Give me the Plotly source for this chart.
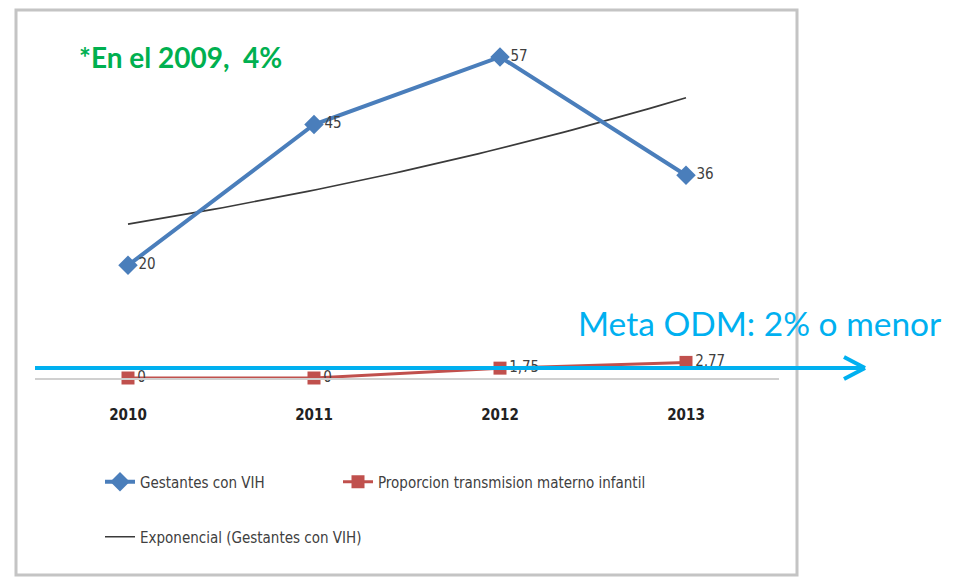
import numpy as np
import plotly.graph_objects as go

# ---- data ----
years = ["2010", "2011", "2012", "2013"]
gestantes_vih = [20, 45, 57, 36]
transmision = [0, 0, 1.75, 2.77]

xi = list(range(len(years)))

# exponential trendline fitted to the Gestantes series (as the original chart's trendline)
b, a = np.polyfit(xi, np.log(gestantes_vih), 1)
xt = np.linspace(0, len(years) - 1, 60)
yt = np.exp(a + b * xt)

OFF = 8                  # page body margin offset
W, H = 969, 577
L, R = 35 - OFF, 779 - OFF   # plot area pixel extents (page coords minus offset)
T, B = 40 - OFF, 378 - OFF

def px(x):
    return (x - OFF - L) / (R - L)

def py(y):
    return (B - (y - OFF)) / (B - T)

FONT = "DejaVu Sans Condensed, Liberation Sans Narrow, Arial Narrow, sans-serif"
BLUE = "#4A7EBB"
RED = "#C0504D"
CYAN = "#00B0F0"

def fmt(v):
    return ("%g" % v).replace(".", ",")

fig = go.Figure()
fig.add_trace(go.Scatter(
    x=xt, y=yt, mode="lines", name="Exponencial (Gestantes con VIH)",
    line=dict(color="#3a3a3a", width=1.6), legend="legend2", hoverinfo="skip"))
fig.add_trace(go.Scatter(
    x=xi, y=gestantes_vih, mode="lines+markers+text", name="Gestantes con VIH",
    line=dict(color=BLUE, width=4), marker=dict(symbol="diamond", size=15, color=BLUE),
    text=[fmt(v) for v in gestantes_vih], textposition="middle right",
    textfont=dict(family=FONT, size=15, color="#404040"), cliponaxis=False,
    legend="legend"))
fig.add_trace(go.Scatter(
    x=xi, y=transmision, mode="lines+markers+text", name="Proporcion transmision materno infantil",
    line=dict(color=RED, width=3), marker=dict(symbol="square", size=13, color=RED),
    text=[fmt(v) for v in transmision], textposition="middle right",
    textfont=dict(family=FONT, size=15, color="#404040"), cliponaxis=False,
    legend="legend3"))

shapes = []
# outer frame of the picture
shapes.append(dict(type="rect", xref="paper", yref="paper",
                   x0=px(16), x1=px(797), y0=py(575), y1=py(10),
                   line=dict(color="#c4c4c4", width=3), layer="below"))
# arrow line (Meta ODM)
ay = py(368)
shapes.append(dict(type="line", xref="paper", yref="paper",
                   x0=px(35), x1=px(864), y0=ay, y1=ay,
                   line=dict(color=CYAN, width=4)))
shapes.append(dict(type="line", xref="paper", yref="paper",
                   x0=px(844), x1=px(865), y0=py(357), y1=ay,
                   line=dict(color=CYAN, width=4)))
shapes.append(dict(type="line", xref="paper", yref="paper",
                   x0=px(844), x1=px(865), y0=py(379), y1=ay,
                   line=dict(color=CYAN, width=4)))

annotations = [
    dict(text="<b>*En el 2009,  4%</b>", xref="paper", yref="paper",
         x=px(77), y=py(57), xanchor="left", yanchor="middle", showarrow=False,
         font=dict(family="Lato, Open Sans, sans-serif", size=28, color="#00B050")),
    dict(text="Meta ODM: 2% o menor", xref="paper", yref="paper",
         x=px(576), y=py(323), xanchor="left", yanchor="middle", showarrow=False,
         font=dict(family="Lato, Open Sans, sans-serif", size=33.5, color=CYAN)),
]

def leg(xpage, ypage):
    return dict(orientation="h", xref="container", yref="container",
                x=(xpage - OFF) / W, y=1 - (ypage - OFF) / H,
                xanchor="left", yanchor="middle",
                font=dict(family=FONT, size=15, color="#404040"),
                bgcolor="rgba(0,0,0,0)", itemwidth=30)

fig.update_layout(
    width=W, height=H,
    margin=dict(l=L, r=W - R, t=T, b=H - B),
    paper_bgcolor="white", plot_bgcolor="white",
    showlegend=True,
    xaxis=dict(range=[-0.5, 3.5], tickmode="array", tickvals=xi,
               ticktext=["<b>%s</b>" % y for y in years],
               tickfont=dict(family=FONT, size=15, color="#222222"),
               showgrid=False, zeroline=False, showline=True,
               linecolor="#d0d0d0", linewidth=2,
               ticks="outside", ticklen=22, tickcolor="rgba(0,0,0,0)"),
    yaxis=dict(range=[0, 60], visible=False, showgrid=False, zeroline=False),
    legend=leg(100, 482),
    legend3=leg(338, 482),
    legend2=leg(100, 537),
    shapes=shapes, annotations=annotations,
)

fig.write_html("out.html")
